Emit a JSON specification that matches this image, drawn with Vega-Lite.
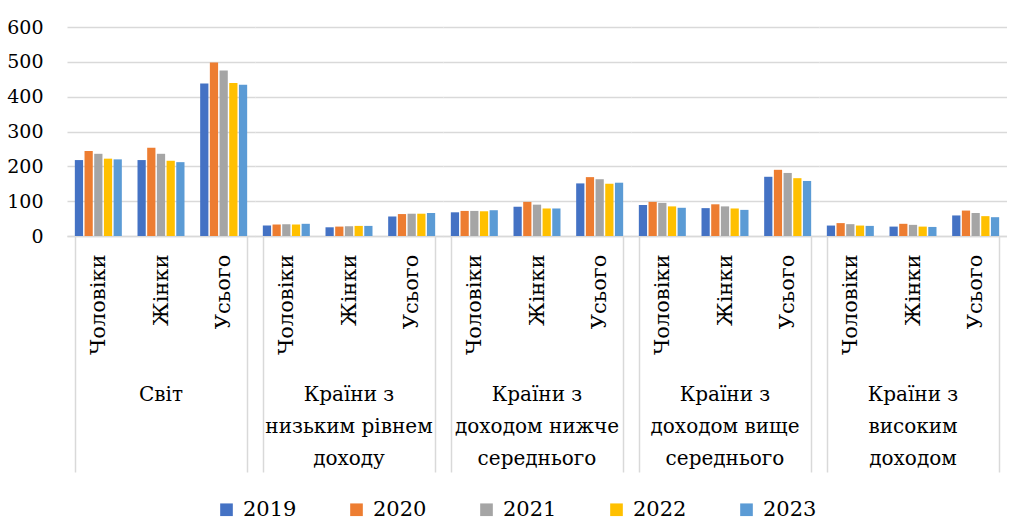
{
  "$schema": "https://vega.github.io/schema/vega-lite/v6.json",
  "padding": {"left": 6, "top": 18, "right": 0, "bottom": 0},
  "data": {"values": [
    {"group": "Світ", "sub": "Чоловіки", "year": "2019", "value": 218},
    {"group": "Світ", "sub": "Чоловіки", "year": "2020", "value": 244},
    {"group": "Світ", "sub": "Чоловіки", "year": "2021", "value": 236},
    {"group": "Світ", "sub": "Чоловіки", "year": "2022", "value": 222},
    {"group": "Світ", "sub": "Чоловіки", "year": "2023", "value": 220},
    {"group": "Світ", "sub": "Жінки", "year": "2019", "value": 218},
    {"group": "Світ", "sub": "Жінки", "year": "2020", "value": 253},
    {"group": "Світ", "sub": "Жінки", "year": "2021", "value": 236},
    {"group": "Світ", "sub": "Жінки", "year": "2022", "value": 216},
    {"group": "Світ", "sub": "Жінки", "year": "2023", "value": 212},
    {"group": "Світ", "sub": "Усього", "year": "2019", "value": 438},
    {"group": "Світ", "sub": "Усього", "year": "2020", "value": 498},
    {"group": "Світ", "sub": "Усього", "year": "2021", "value": 475},
    {"group": "Світ", "sub": "Усього", "year": "2022", "value": 439},
    {"group": "Світ", "sub": "Усього", "year": "2023", "value": 434},
    {"group": "Країни з низьким рівнем доходу", "sub": "Чоловіки", "year": "2019", "value": 30},
    {"group": "Країни з низьким рівнем доходу", "sub": "Чоловіки", "year": "2020", "value": 33},
    {"group": "Країни з низьким рівнем доходу", "sub": "Чоловіки", "year": "2021", "value": 34},
    {"group": "Країни з низьким рівнем доходу", "sub": "Чоловіки", "year": "2022", "value": 33},
    {"group": "Країни з низьким рівнем доходу", "sub": "Чоловіки", "year": "2023", "value": 35},
    {"group": "Країни з низьким рівнем доходу", "sub": "Жінки", "year": "2019", "value": 25},
    {"group": "Країни з низьким рівнем доходу", "sub": "Жінки", "year": "2020", "value": 27},
    {"group": "Країни з низьким рівнем доходу", "sub": "Жінки", "year": "2021", "value": 28},
    {"group": "Країни з низьким рівнем доходу", "sub": "Жінки", "year": "2022", "value": 29},
    {"group": "Країни з низьким рівнем доходу", "sub": "Жінки", "year": "2023", "value": 29},
    {"group": "Країни з низьким рівнем доходу", "sub": "Усього", "year": "2019", "value": 56},
    {"group": "Країни з низьким рівнем доходу", "sub": "Усього", "year": "2020", "value": 63},
    {"group": "Країни з низьким рівнем доходу", "sub": "Усього", "year": "2021", "value": 64},
    {"group": "Країни з низьким рівнем доходу", "sub": "Усього", "year": "2022", "value": 64},
    {"group": "Країни з низьким рівнем доходу", "sub": "Усього", "year": "2023", "value": 66},
    {"group": "Країни з доходом нижче середнього", "sub": "Чоловіки", "year": "2019", "value": 68},
    {"group": "Країни з доходом нижче середнього", "sub": "Чоловіки", "year": "2020", "value": 72},
    {"group": "Країни з доходом нижче середнього", "sub": "Чоловіки", "year": "2021", "value": 72},
    {"group": "Країни з доходом нижче середнього", "sub": "Чоловіки", "year": "2022", "value": 71},
    {"group": "Країни з доходом нижче середнього", "sub": "Чоловіки", "year": "2023", "value": 74},
    {"group": "Країни з доходом нижче середнього", "sub": "Жінки", "year": "2019", "value": 84},
    {"group": "Країни з доходом нижче середнього", "sub": "Жінки", "year": "2020", "value": 98},
    {"group": "Країни з доходом нижче середнього", "sub": "Жінки", "year": "2021", "value": 90},
    {"group": "Країни з доходом нижче середнього", "sub": "Жінки", "year": "2022", "value": 79},
    {"group": "Країни з доходом нижче середнього", "sub": "Жінки", "year": "2023", "value": 79},
    {"group": "Країни з доходом нижче середнього", "sub": "Усього", "year": "2019", "value": 151},
    {"group": "Країни з доходом нижче середнього", "sub": "Усього", "year": "2020", "value": 169},
    {"group": "Країни з доходом нижче середнього", "sub": "Усього", "year": "2021", "value": 163},
    {"group": "Країни з доходом нижче середнього", "sub": "Усього", "year": "2022", "value": 150},
    {"group": "Країни з доходом нижче середнього", "sub": "Усього", "year": "2023", "value": 153},
    {"group": "Країни з доходом вище середнього", "sub": "Чоловіки", "year": "2019", "value": 89},
    {"group": "Країни з доходом вище середнього", "sub": "Чоловіки", "year": "2020", "value": 98},
    {"group": "Країни з доходом вище середнього", "sub": "Чоловіки", "year": "2021", "value": 95},
    {"group": "Країни з доходом вище середнього", "sub": "Чоловіки", "year": "2022", "value": 85},
    {"group": "Країни з доходом вище середнього", "sub": "Чоловіки", "year": "2023", "value": 81},
    {"group": "Країни з доходом вище середнього", "sub": "Жінки", "year": "2019", "value": 80},
    {"group": "Країни з доходом вище середнього", "sub": "Жінки", "year": "2020", "value": 91},
    {"group": "Країни з доходом вище середнього", "sub": "Жінки", "year": "2021", "value": 85},
    {"group": "Країни з доходом вище середнього", "sub": "Жінки", "year": "2022", "value": 79},
    {"group": "Країни з доходом вище середнього", "sub": "Жінки", "year": "2023", "value": 75},
    {"group": "Країни з доходом вище середнього", "sub": "Усього", "year": "2019", "value": 170},
    {"group": "Країни з доходом вище середнього", "sub": "Усього", "year": "2020", "value": 190},
    {"group": "Країни з доходом вище середнього", "sub": "Усього", "year": "2021", "value": 181},
    {"group": "Країни з доходом вище середнього", "sub": "Усього", "year": "2022", "value": 166},
    {"group": "Країни з доходом вище середнього", "sub": "Усього", "year": "2023", "value": 158},
    {"group": "Країни з високим доходом", "sub": "Чоловіки", "year": "2019", "value": 30},
    {"group": "Країни з високим доходом", "sub": "Чоловіки", "year": "2020", "value": 37},
    {"group": "Країни з високим доходом", "sub": "Чоловіки", "year": "2021", "value": 34},
    {"group": "Країни з високим доходом", "sub": "Чоловіки", "year": "2022", "value": 30},
    {"group": "Країни з високим доходом", "sub": "Чоловіки", "year": "2023", "value": 29},
    {"group": "Країни з високим доходом", "sub": "Жінки", "year": "2019", "value": 27},
    {"group": "Країни з високим доходом", "sub": "Жінки", "year": "2020", "value": 35},
    {"group": "Країни з високим доходом", "sub": "Жінки", "year": "2021", "value": 32},
    {"group": "Країни з високим доходом", "sub": "Жінки", "year": "2022", "value": 27},
    {"group": "Країни з високим доходом", "sub": "Жінки", "year": "2023", "value": 26},
    {"group": "Країни з високим доходом", "sub": "Усього", "year": "2019", "value": 59},
    {"group": "Країни з високим доходом", "sub": "Усього", "year": "2020", "value": 73},
    {"group": "Країни з високим доходом", "sub": "Усього", "year": "2021", "value": 66},
    {"group": "Країни з високим доходом", "sub": "Усього", "year": "2022", "value": 57},
    {"group": "Країни з високим доходом", "sub": "Усього", "year": "2023", "value": 54}
  ]},
  "facet": {
    "column": {
      "field": "group",
      "type": "nominal",
      "title": null,
      "sort": ["Світ", "Країни з низьким рівнем доходу", "Країни з доходом нижче середнього", "Країни з доходом вище середнього", "Країни з високим доходом"],
      "header": {
        "labelOrient": "bottom",
        "labelFont": "DejaVu Serif",
        "labelFontSize": 20,
        "labelColor": "#000000",
        "labelBaseline": "top",
        "labelLineHeight": 32,
        "labelPadding": -88,
        "labelExpr": "datum.value == 'Світ' ? 'Світ' : datum.value == 'Країни з низьким рівнем доходу' ? ['Країни з', 'низьким рівнем', 'доходу'] : datum.value == 'Країни з доходом нижче середнього' ? ['Країни з', 'доходом нижче', 'середнього'] : datum.value == 'Країни з доходом вище середнього' ? ['Країни з', 'доходом вище', 'середнього'] : ['Країни з', 'високим', 'доходом']"
      }
    }
  },
  "spacing": 0,
  "spec": {
    "width": 188,
    "height": 209,
    "mark": {"type": "bar"},
    "encoding": {
      "x": {
        "field": "sub",
        "type": "nominal",
        "sort": ["Чоловіки", "Жінки", "Усього"],
        "title": null,
        "scale": {"paddingInner": 0.25, "paddingOuter": 0.125},
        "axis": {
          "labelAngle": 270,
          "labelFont": "DejaVu Serif",
          "labelFontSize": 21,
          "labelColor": "#000000",
          "labelPadding": -218,
          "labelOverlap": false,
          "tickBand": "extent",
          "tickSize": 236,
          "tickColor": "#d9d9d9",
          "tickWidth": 1.5,
          "tickOpacity": {"condition": {"test": "datum.value == 'Чоловіки' || datum.value == 'Жінки'", "value": 0}, "value": 1},
          "domainColor": "#d9d9d9",
          "domainWidth": 1.5
        }
      },
      "xOffset": {"field": "year", "type": "nominal", "scale": {"paddingInner": 0.15}},
      "y": {
        "field": "value",
        "type": "quantitative",
        "title": null,
        "scale": {"domain": [0, 600], "nice": false},
        "axis": {
          "values": [0, 100, 200, 300, 400, 500, 600],
          "ticks": false,
          "domain": false,
          "grid": true,
          "gridColor": "#d9d9d9",
          "gridWidth": 1.5,
          "labelFont": "DejaVu Serif",
          "labelFontSize": 19,
          "labelColor": "#000000",
          "labelPadding": 24
        }
      },
      "color": {
        "field": "year",
        "type": "nominal",
        "scale": {"domain": ["2019", "2020", "2021", "2022", "2023"], "range": ["#4472C4", "#ED7D31", "#A5A5A5", "#FFC000", "#5B9BD5"]},
        "legend": {
          "orient": "none",
          "legendX": 149,
          "legendY": 472,
          "direction": "horizontal",
          "title": null,
          "symbolType": "square",
          "symbolSize": 160,
          "symbolStrokeWidth": 0,
          "labelFont": "DejaVu Serif",
          "labelFontSize": 21,
          "labelColor": "#000000",
          "labelOffset": 6,
          "columnPadding": 49
        }
      }
    }
  },
  "config": {"view": {"stroke": null}, "font": "DejaVu Serif"}
}
